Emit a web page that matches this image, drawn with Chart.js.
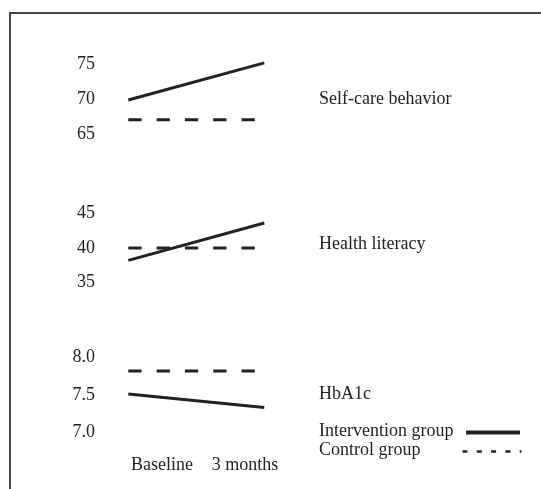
<!DOCTYPE html>
<html>
<head>
<meta charset="utf-8">
<script src="https://cdn.jsdelivr.net/npm/chart.js@4/dist/chart.umd.min.js"></script>
<style>
  html, body { margin: 0; padding: 0; background: #fff; }
  #wrap { position: relative; width: 541px; height: 489px; }
  #frame { position: absolute; left: 9px; top: 12px; width: 540px; height: 480px;
           border-top: 2px solid #444; border-left: 2px solid #444; pointer-events: none; }
  canvas { position: absolute; left: 0; top: 0; }
</style>
</head>
<body>
<div id="wrap">
  <canvas id="c" width="541" height="489"></canvas>
  <div id="frame"></div>
</div>
<script>
// ---- data ----
const categories = ['Baseline', '3 months'];
const outcomes = ['Self-care behavior', 'Health literacy', 'HbA1c'];
const groups = ['Intervention group', 'Control group'];

const selfCareIntervention = [69.9, 75.2];
const selfCareControl      = [67.1, 67.1];
const literacyIntervention = [38.2, 43.6];
const literacyControl      = [40.0, 40.0];
const hba1cIntervention    = [7.51, 7.33];
const hba1cControl         = [7.82, 7.82];

const selfCareTicks = [65, 70, 75];
const literacyTicks = [35, 40, 45];
const hba1cTicks    = [7.0, 7.5, 8.0];

// ---- chart ----
const INK = '#222';
const FONT = '"Liberation Serif", "Times New Roman", serif';
const pts = arr => arr.map((v, i) => ({ x: i, y: v }));

function solid(data, axis) {
  return { data: pts(data), yAxisID: axis, borderColor: INK, borderWidth: 3,
           pointRadius: 0, fill: false, tension: 0 };
}
function dashed(data, axis) {
  return { data: pts(data), yAxisID: axis, borderColor: INK, borderWidth: 3,
           borderDash: [13.3, 15], pointRadius: 0, fill: false, tension: 0 };
}

function yAxis(ticksArr, min, max, weight, digits) {
  return {
    type: 'linear', position: 'left', stack: 'outcomes', stackWeight: weight,
    min: min, max: max,
    border: { display: false },
    grid: { display: false, drawTicks: false },
    afterBuildTicks: s => { s.ticks = ticksArr.map(v => ({ value: v })); },
    afterFit: s => { s.width = 60; },
    ticks: { padding: 10, color: INK, font: { family: FONT, size: 18 },
             callback: v => Number(v).toFixed(digits) }
  };
}

const textPlugin = {
  id: 'texts',
  afterDraw(chart) {
    const ctx = chart.ctx;
    const sc = chart.scales;
    ctx.save();
    ctx.font = '18px ' + FONT;
    ctx.fillStyle = INK;
    ctx.textAlign = 'left';
    ctx.textBaseline = 'middle';
    const tx = 319;
    ctx.fillText(outcomes[0], tx, sc.yS.getPixelForValue(selfCareTicks[1]));
    ctx.fillText(outcomes[1], tx, sc.yL.getPixelForValue(literacyTicks[1]) - 4);
    ctx.fillText(outcomes[2], tx, sc.yH.getPixelForValue(hba1cTicks[1]) - 1);
    const yI = sc.yH.getPixelForValue(hba1cTicks[0]) - 0.5;
    const yC = yI + 19;
    ctx.fillText(groups[0], tx, yI);
    ctx.fillText(groups[1], tx, yC);
    // legend keys
    ctx.strokeStyle = INK;
    ctx.lineWidth = 4;
    ctx.beginPath(); ctx.moveTo(466, yI + 1); ctx.lineTo(520, yI + 1); ctx.stroke();
    ctx.lineWidth = 2.5;
    ctx.setLineDash([5, 9.3]);
    ctx.beginPath(); ctx.moveTo(462.5, yC + 1); ctx.lineTo(521.5, yC + 1); ctx.stroke();
    ctx.restore();
  }
};

new Chart(document.getElementById('c'), {
  type: 'line',
  data: {
    datasets: [
      solid(hba1cIntervention, 'yH'),
      dashed(hba1cControl, 'yH'),
      solid(literacyIntervention, 'yL'),
      dashed(literacyControl, 'yL'),
      solid(selfCareIntervention, 'yS'),
      dashed(selfCareControl, 'yS')
    ]
  },
  options: {
    responsive: false,
    animation: false,
    events: [],
    layout: { padding: { left: 45, right: 11, top: 20, bottom: 11.4 } },
    plugins: { legend: { display: false }, tooltip: { enabled: false } },
    scales: {
      x: {
        type: 'linear', min: -0.1713, max: 2.954,
        border: { display: false },
        grid: { display: false, drawTicks: false },
        afterBuildTicks: s => { s.ticks = [{ value: 0.248 }, { value: 0.858 }]; },
        ticks: { padding: 2, color: INK, font: { family: FONT, size: 18 },
                 autoSkip: false, maxRotation: 0,
                 callback: (v, i) => categories[i] }
      },
      yH: yAxis(hba1cTicks, 6.730, 8.486, 130, 1),
      yL: yAxis(literacyTicks, 29.35, 50.80, 148, 0),
      yS: yAxis(selfCareTicks, 59.47, 81.19, 152, 0)
    }
  },
  plugins: [textPlugin]
});
</script>
</body>
</html>
